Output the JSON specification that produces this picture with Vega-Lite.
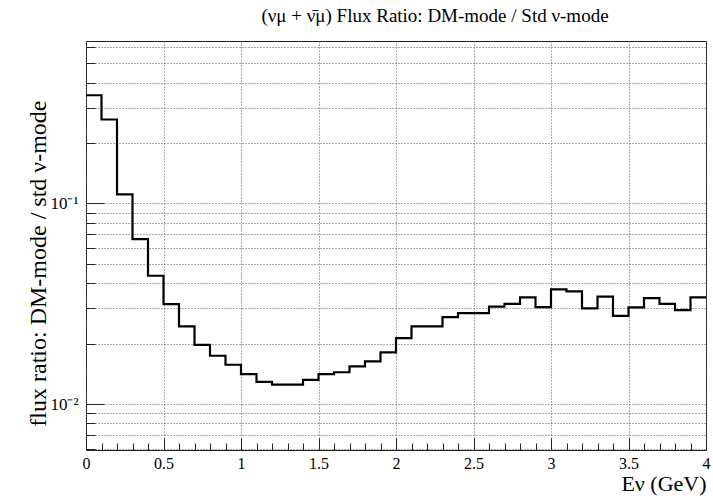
{
  "$schema": "https://vega.github.io/schema/vega-lite/v6.json",
  "width": 620,
  "height": 409,
  "autosize": {"type": "none"},
  "padding": {"left": 86, "top": 41, "right": 7, "bottom": 46},
  "background": "white",
  "config": {"view": {"stroke": "#222", "strokeWidth": 1}, "font": "Liberation Serif"},
  "title": {"text": "(νμ + ν̄μ) Flux Ratio: DM-mode / Std ν-mode", "font": "Liberation Serif", "fontSize": 19, "fontWeight": "normal", "color": "#000", "anchor": "middle", "dx": 39, "offset": 12},
  "data": {"values": [
    {"lo": 0.0, "hi": 0.1, "v": 0.346},
    {"lo": 0.1, "hi": 0.2, "v": 0.262},
    {"lo": 0.2, "hi": 0.3, "v": 0.111},
    {"lo": 0.3, "hi": 0.4, "v": 0.0664},
    {"lo": 0.4, "hi": 0.5, "v": 0.0436},
    {"lo": 0.5, "hi": 0.6, "v": 0.0315},
    {"lo": 0.6, "hi": 0.7, "v": 0.0244},
    {"lo": 0.7, "hi": 0.8, "v": 0.0197},
    {"lo": 0.8, "hi": 0.9, "v": 0.0174},
    {"lo": 0.9, "hi": 1.0, "v": 0.0157},
    {"lo": 1.0, "hi": 1.1, "v": 0.0141},
    {"lo": 1.1, "hi": 1.2, "v": 0.0129},
    {"lo": 1.2, "hi": 1.3, "v": 0.0125},
    {"lo": 1.3, "hi": 1.4, "v": 0.0125},
    {"lo": 1.4, "hi": 1.5, "v": 0.0132},
    {"lo": 1.5, "hi": 1.6, "v": 0.0141},
    {"lo": 1.6, "hi": 1.7, "v": 0.0144},
    {"lo": 1.7, "hi": 1.8, "v": 0.0154},
    {"lo": 1.8, "hi": 1.9, "v": 0.0163},
    {"lo": 1.9, "hi": 2.0, "v": 0.0181},
    {"lo": 2.0, "hi": 2.1, "v": 0.0213},
    {"lo": 2.1, "hi": 2.2, "v": 0.0244},
    {"lo": 2.2, "hi": 2.3, "v": 0.0244},
    {"lo": 2.3, "hi": 2.4, "v": 0.0271},
    {"lo": 2.4, "hi": 2.5, "v": 0.0284},
    {"lo": 2.5, "hi": 2.6, "v": 0.0284},
    {"lo": 2.6, "hi": 2.7, "v": 0.0306},
    {"lo": 2.7, "hi": 2.8, "v": 0.0316},
    {"lo": 2.8, "hi": 2.9, "v": 0.0340},
    {"lo": 2.9, "hi": 3.0, "v": 0.0304},
    {"lo": 3.0, "hi": 3.1, "v": 0.0373},
    {"lo": 3.1, "hi": 3.2, "v": 0.0364},
    {"lo": 3.2, "hi": 3.3, "v": 0.0300},
    {"lo": 3.3, "hi": 3.4, "v": 0.0343},
    {"lo": 3.4, "hi": 3.5, "v": 0.0275},
    {"lo": 3.5, "hi": 3.6, "v": 0.0303},
    {"lo": 3.6, "hi": 3.7, "v": 0.0337},
    {"lo": 3.7, "hi": 3.8, "v": 0.0316},
    {"lo": 3.8, "hi": 3.9, "v": 0.0294},
    {"lo": 3.9, "hi": 4.0, "v": 0.0340}
  ]},
  "transform": [{"fold": ["lo", "hi"], "as": ["edge", "E"]}],
  "mark": {"type": "line", "color": "#000", "strokeWidth": 2.2, "strokeJoin": "miter", "strokeCap": "butt", "clip": true},
  "encoding": {
    "x": {
      "field": "E", "type": "quantitative",
      "scale": {"domain": [0, 4], "nice": false, "zero": false},
      "axis": {
        "values": [0,0.1,0.2,0.3,0.4,0.5,0.6,0.7,0.8,0.9,1,1.1,1.2,1.3,1.4,1.5,1.6,1.7,1.8,1.9,2,2.1,2.2,2.3,2.4,2.5,2.6,2.7,2.8,2.9,3,3.1,3.2,3.3,3.4,3.5,3.6,3.7,3.8,3.9,4],
        "labelExpr": "abs(datum.value*2-round(datum.value*2))<0.001 ? '' + datum.value : ''",
        "grid": true,
        "gridDash": [1, 2],
        "gridColor": "#555",
        "gridWidth": 1,
        "gridOpacity": {"condition": {"test": "abs(datum.value*2-round(datum.value*2))<0.001", "value": 1}, "value": 0},
        "tickSize": {"condition": {"test": "abs(datum.value*2-round(datum.value*2))<0.001", "value": -12}, "value": -7},
        "tickColor": "#222",
        "domain": false,
        "labelFont": "Liberation Serif",
        "labelFontSize": 16,
        "labelColor": "#000",
        "labelPadding": 17,
        "labelFlush": false,
        "labelOverlap": false,
        "labelBound": false,
        "title": "Eν (GeV)",
        "titleFont": "Liberation Serif",
        "titleFontSize": 22,
        "titleFontWeight": "normal",
        "titleColor": "#000",
        "titleAlign": "right",
        "titleAnchor": "end",
        "titleX": 620,
        "titleY": 40,
        "titleBaseline": "alphabetic"
      }
    },
    "y": {
      "field": "v", "type": "quantitative",
      "scale": {"type": "log", "domain": [0.0059, 0.645], "nice": false},
      "axis": {
        "values": [0.006,0.007,0.008,0.009,0.01,0.02,0.03,0.04,0.05,0.06,0.07,0.08,0.09,0.1,0.2,0.3,0.4,0.5,0.6],
        "labelExpr": "datum.value == 0.1 ? '10⁻¹' : (datum.value == 0.01 ? '10⁻²' : '')",
        "grid": true,
        "gridDash": [1, 2],
        "gridColor": "#555",
        "gridWidth": 1,
        "tickSize": {"condition": {"test": "datum.value == 0.1 || datum.value == 0.01", "value": -18}, "value": -9},
        "tickColor": "#222",
        "domain": false,
        "labelFont": "Liberation Serif",
        "labelFontSize": 17,
        "labelColor": "#000",
        "labelPadding": 26,
        "labelOverlap": false,
        "labelBound": false,
        "title": "flux ratio: DM-mode / std ν-mode",
        "titleFont": "Liberation Serif",
        "titleFontSize": 24,
        "titleFontWeight": "normal",
        "titleColor": "#000",
        "titleAngle": -90,
        "titleAlign": "right",
        "titleAnchor": "end",
        "titleX": -48,
        "titleY": 59,
        "titleBaseline": "middle"
      }
    },
    "order": {"value": null}
  }
}
